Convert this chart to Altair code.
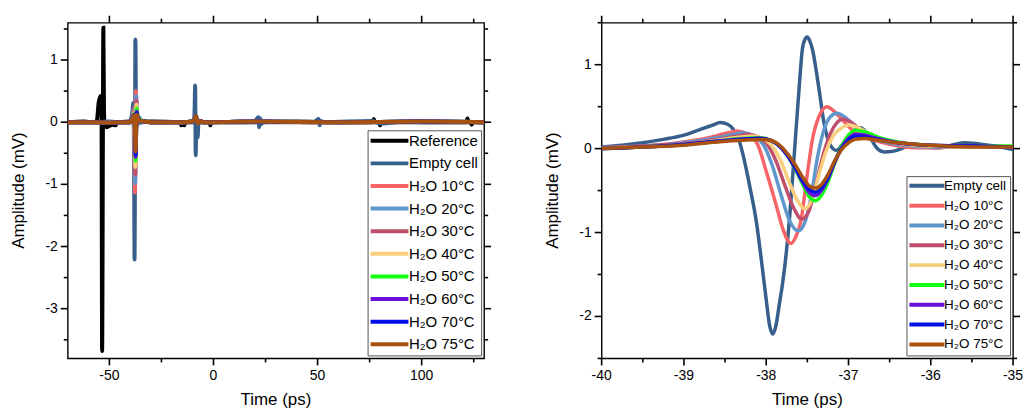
import altair as alt
import pandas as pd

FONT = "Liberation Sans"

NAMES = ["Reference", "Empty cell", "H₂O 10°C", "H₂O 20°C", "H₂O 30°C", "H₂O 40°C",
         "H₂O 50°C", "H₂O 60°C", "H₂O 70°C", "H₂O 75°C"]
COLORS = ["#000000", "#365f8c", "#f76468", "#5f97cc", "#bf4f6d", "#f9cf7d",
          "#14ff14", "#6b10db", "#0010e6", "#a9520f"]

# ---------------- zoomed window (-40 .. -35 ps) ----------------
EMPTY_T = [-40, -39.75, -39.5, -39.25, -39.0, -38.8, -38.65, -38.56, -38.47, -38.4, -38.33,
           -38.28, -38.2, -38.12, -38.05, -38.0, -37.96, -37.92, -37.88, -37.84, -37.8,
           -37.72, -37.66, -37.6, -37.56, -37.53, -37.5, -37.47, -37.44, -37.36, -37.3,
           -37.22, -37.15, -37.05, -36.95, -36.85, -36.75, -36.65, -36.57, -36.45, -36.3,
           -36.17, -36.05, -35.9, -35.75, -35.6, -35.45, -35.3, -35.15, -35.0]
EMPTY_V = [0.02, 0.04, 0.07, 0.11, 0.16, 0.23, 0.28, 0.31, 0.29, 0.23, 0.10,
           -0.08, -0.45, -0.87, -1.4, -1.8, -2.1, -2.21, -2.1, -1.85, -1.6,
           -0.87, -0.08, 0.72, 1.19, 1.3, 1.33, 1.28, 1.19, 0.72, 0.32,
           0.04, -0.02, 0.08, 0.20, 0.25, 0.15, 0.0, -0.04, -0.03, 0.02,
           0.05, 0.02, 0.01, 0.04, 0.07, 0.06, 0.04, 0.02, -0.01]

W10_T = [-40, -39.5, -39, -38.7, -38.5, -38.35, -38.22, -38.1, -38.0, -37.88, -37.8, -37.7,
         -37.64, -37.58, -37.5, -37.44, -37.36, -37.26, -37.18, -37.09, -36.93, -36.69,
         -36.5, -36.2, -36.0, -35.5, -35.0]
W10_V = [0.01, 0.03, 0.08, 0.13, 0.18, 0.21, 0.17, 0.04, -0.27, -0.67, -0.95, -1.13,
         -1.05, -0.87, -0.3, 0.1, 0.38, 0.50, 0.45, 0.36, 0.20, 0.10,
         0.05, 0.01, 0.01, 0.03, 0.02]

W20_T = [-40, -39.5, -39, -38.6, -38.4, -38.28, -38.15, -38.02, -37.92, -37.82, -37.72,
         -37.61, -37.52, -37.45, -37.38, -37.3, -37.22, -37.14, -37.05, -36.95, -36.8,
         -36.6, -36.4, -36.0, -35.5, -35.0]
W20_V = [0.01, 0.03, 0.07, 0.13, 0.17, 0.19, 0.15, 0.02, -0.22, -0.55, -0.85,
         -0.98, -0.85, -0.55, -0.12, 0.22, 0.38, 0.42, 0.38, 0.30, 0.17,
         0.09, 0.05, 0.02, 0.02, 0.02]

W30_T = [-40, -39.5, -39, -38.6, -38.35, -38.22, -38.1, -37.98, -37.88, -37.78, -37.67,
         -37.57, -37.48, -37.4, -37.32, -37.22, -37.14, -37.07, -36.98, -36.85, -36.65,
         -36.4, -36.0, -35.5, -35.0]
W30_V = [0.01, 0.03, 0.06, 0.11, 0.15, 0.17, 0.14, 0.04, -0.15, -0.42, -0.70,
         -0.84, -0.74, -0.45, -0.12, 0.18, 0.31, 0.35, 0.32, 0.22, 0.12,
         0.06, 0.03, 0.02, 0.02]

W40_T = [-40, -39.5, -39, -38.6, -38.3, -38.15, -38.02, -37.92, -37.82, -37.72, -37.62,
         -37.53, -37.45, -37.37, -37.28, -37.18, -37.08, -37.0, -36.9, -36.75, -36.55,
         -36.3, -36.0, -35.5, -35.0]
W40_V = [0.01, 0.02, 0.05, 0.10, 0.14, 0.15, 0.11, 0.02, -0.15, -0.40, -0.62,
         -0.72, -0.62, -0.35, -0.05, 0.16, 0.25, 0.28, 0.26, 0.18, 0.10,
         0.05, 0.03, 0.02, 0.02]

WHOT_T = [-40, -39.5, -39, -38.6, -38.3, -38.08, -37.95, -37.85, -37.75, -37.65, -37.55,
          -37.47, -37.40, -37.33, -37.25, -37.17, -37.09, -37.0, -36.92, -36.8, -36.65,
          -36.4, -36.0, -35.5, -35.0]
W50_V = [0.0, 0.02, 0.05, 0.09, 0.12, 0.13, 0.10, 0.04, -0.07, -0.24, -0.44,
         -0.58, -0.62, -0.56, -0.40, -0.18, 0.02, 0.16, 0.22, 0.20, 0.14,
         0.08, 0.04, 0.03, 0.03]
W60_V = [0.0, 0.02, 0.05, 0.09, 0.115, 0.125, 0.10, 0.04, -0.07, -0.23, -0.41,
         -0.53, -0.56, -0.50, -0.36, -0.17, 0.0, 0.12, 0.17, 0.16, 0.12,
         0.07, 0.04, 0.03, 0.02]
W70_V = [0.0, 0.02, 0.05, 0.085, 0.11, 0.12, 0.10, 0.04, -0.07, -0.22, -0.39,
         -0.49, -0.52, -0.47, -0.34, -0.16, -0.01, 0.10, 0.15, 0.14, 0.11,
         0.07, 0.04, 0.03, 0.02]
W75_V = [0.0, 0.02, 0.04, 0.08, 0.10, 0.11, 0.10, 0.05, -0.05, -0.19, -0.35,
         -0.45, -0.47, -0.43, -0.31, -0.15, -0.02, 0.07, 0.11, 0.12, 0.10,
         0.07, 0.04, 0.02, 0.02]

# ---------------- full window extras (-70 .. 130 ps) ----------------
REF_T = [-70, -62, -58, -56, -55.6, -55.2, -54.7, -54.2, -53.8, -53.5, -52.9, -52.6,
         -52.3, -51.5, -50, -48.5, -47, -46, -40, -30, -16, -15.5, -15, -14, -13.5,
         -2, -1.5, -1, 20, 40, 60, 76.5, 77, 77.5, 79.5, 80, 80.5, 95, 110, 121.5, 122, 122.5,
         123.5, 124, 124.5, 130]
REF_V = [0.0, 0.01, 0.0, 0.02, 0.15, 0.30, 0.38, 0.42, 0.35, -3.68, 1.52, 0.2,
         -0.05, -0.08, -0.06, -0.04, -0.05, 0.0, 0.0, 0.01, 0.0, -0.05, 0.0, -0.05, 0.0,
         0.0, -0.05, 0.0, 0.0, 0.01, 0.0, 0.0, 0.05, 0.0, 0.0, -0.05, 0.0, 0.0, 0.0, 0.0, 0.06, 0.0,
         0.0, -0.04, 0.0, 0.0]

EMPTY_PRE_T = [-70, -60, -50, -45, -42]
EMPTY_PRE_V = [0.0, 0.0, 0.01, 0.0, 0.01]
EMPTY_POST_T = [-33, -30, -20, -12, -10, -9.2, -8.8, -8.55, -8.2, -7.6, -7.2, -5, 15, 20,
                21.5, 22, 22.5, 23, 24, 48, 50.5, 51, 51.5, 53, 76, 80, 95, 100, 130]
EMPTY_POST_V = [0.02, -0.01, 0.0, 0.0, 0.02, 0.08, 0.59, -0.53, 0.1, -0.24, 0.0, 0.0, 0.0, 0.02,
                0.08, -0.08, 0.06, -0.03, 0.0, 0.0, 0.05, -0.05, 0.02, 0.0, 0.02, -0.02, 0.02, 0.0, 0.0]

WATER_PRE_T = [-70, -56, -50, -45, -42]
WATER_PRE_V = [0.0, 0.0, -0.01, 0.0, 0.0]
WATER_POST_T = [-33, -30, -15, -10, -9.0, -8.5, -8.0, -7.5, -6.5, -5, 20, 60, 100, 130]
WATER_POST_V = [0.01, 0.0, 0.0, 0.01, 0.05, 0.1, 0.02, -0.02, 0.02, 0.0, 0.01, 0.0, 0.01, 0.0]

ZOOM_T = [EMPTY_T, W10_T, W20_T, W30_T, W40_T, WHOT_T, WHOT_T, WHOT_T, WHOT_T]
ZOOM_V = [EMPTY_V, W10_V, W20_V, W30_V, W40_V, W50_V, W60_V, W70_V, W75_V]

# ---------------- ticks and tick labels ----------------
X_FULL_MAJOR = [-50, 0, 50, 100]
X_FULL_LABELS = ["-50", "0", "50", "100"]
X_FULL_MINOR = [-25, 25, 75, 125]
Y_FULL_MAJOR = [-3, -2, -1, 0, 1]
Y_FULL_LABELS = ["-3", "-2", "-1", "0", "1"]
Y_FULL_MINOR = [-3.5, -2.5, -1.5, -0.5, 0.5, 1.5]
X_ZOOM_MAJOR = [-40, -39, -38, -37, -36, -35]
X_ZOOM_LABELS = ["-40", "-39", "-38", "-37", "-36", "-35"]
X_ZOOM_MINOR = [-39.5, -38.5, -37.5, -36.5, -35.5]
Y_ZOOM_MAJOR = [-2, -1, 0, 1]
Y_ZOOM_LABELS = ["-2", "-1", "0", "1"]
Y_ZOOM_MINOR = [-2.5, -1.5, -0.5, 0.5, 1.5]

X_TITLE = "Time (ps)"
Y_TITLE = "Amplitude (mV)"

H = 337
MAJOR = 7
MINOR = 4


def df(name, t, v):
    return pd.DataFrame({"t": t, "v": v, "series": name})


full_frames = [df(NAMES[0], REF_T, REF_V),
               df(NAMES[1], EMPTY_PRE_T + EMPTY_T + EMPTY_POST_T,
                  EMPTY_PRE_V + EMPTY_V + EMPTY_POST_V)]
for i in range(1, 9):
    full_frames.append(df(NAMES[i + 1], WATER_PRE_T + ZOOM_T[i] + WATER_POST_T,
                          WATER_PRE_V + ZOOM_V[i] + WATER_POST_V))
zoom_frames = [df(NAMES[i + 1], ZOOM_T[i], ZOOM_V[i]) for i in range(9)]


def make_legend(font_size, sym_size, path, sym_off, lab_off, row_pad):
    return alt.Legend(orient="bottom-right", offset=3, title=None, strokeColor="#555555",
                      fillColor="white", padding=3, symbolType=path, symbolSize=sym_size,
                      symbolStrokeWidth=4, symbolOffset=sym_off, labelOffset=lab_off,
                      labelFontSize=font_size, labelFont=FONT, labelColor="black",
                      rowPadding=row_pad, labelLimit=200)


def panel(frames, names, colors, xdom, ydom, xmaj, xlab, xmin, ymaj, ylab, ymin, legend, sw, W):
    xs = alt.Scale(domain=xdom, nice=False, zero=False)
    ys = alt.Scale(domain=ydom, nice=False, zero=False)
    cs = alt.Scale(domain=names, range=colors)

    def X(field):
        return alt.X(field, scale=xs, axis=None)

    def Y(field):
        return alt.Y(field, scale=ys, axis=None)

    layers = []
    for f in frames:
        layers.append(
            alt.Chart(f).mark_line(strokeWidth=sw, interpolate="monotone", clip=True).encode(
                x=X("t:Q"), y=Y("v:Q"),
                color=alt.Color("series:N", scale=cs, legend=legend),
            )
        )
    # tick marks on all four sides (outward), major and minor
    for xvals, yvals, length in [(xmaj, ymaj, MAJOR), (xmin, ymin, MINOR)]:
        xdf = pd.DataFrame({"t": xvals})
        ydf = pd.DataFrame({"v": yvals})
        for y0, y1 in [(H, H + length), (0, -length)]:
            layers.append(alt.Chart(xdf).mark_rule(color="black", strokeWidth=1.6, clip=False).encode(
                x=X("t:Q"), y=alt.value(y0), y2=alt.value(y1)))
        for x0, x1 in [(0, -length), (W, W + length)]:
            layers.append(alt.Chart(ydf).mark_rule(color="black", strokeWidth=1.6, clip=False).encode(
                y=Y("v:Q"), x=alt.value(x0), x2=alt.value(x1)))
    # tick labels
    layers.append(alt.Chart(pd.DataFrame({"t": xmaj, "lab": xlab})).mark_text(
        font=FONT, fontSize=14, color="black", align="center", baseline="alphabetic").encode(
        x=X("t:Q"), y=alt.value(H + 22), text="lab:N"))
    layers.append(alt.Chart(pd.DataFrame({"v": ymaj, "lab": ylab})).mark_text(
        font=FONT, fontSize=14, color="black", align="right", baseline="middle").encode(
        y=Y("v:Q"), x=alt.value(-10), text="lab:N"))
    # axis titles
    layers.append(alt.Chart(pd.DataFrame({"s": [X_TITLE]})).mark_text(
        font=FONT, fontSize=17, color="black", align="center", baseline="alphabetic").encode(
        x=alt.value(W / 2), y=alt.value(H + 47), text="s:N"))
    layers.append(alt.Chart(pd.DataFrame({"s": [Y_TITLE]})).mark_text(
        font=FONT, fontSize=17, color="black", align="center", baseline="alphabetic",
        angle=270).encode(
        x=alt.value(-44), y=alt.value(H / 2), text="s:N"))
    return alt.layer(*layers).properties(width=W, height=H)


left = panel(full_frames, NAMES, COLORS, [-70, 130], [-3.8, 1.6],
             X_FULL_MAJOR, X_FULL_LABELS, X_FULL_MINOR, Y_FULL_MAJOR, Y_FULL_LABELS, Y_FULL_MINOR,
             make_legend(15, 121, "M-3.45,0H3.45", 11.5, 12, 5.7), 4, 418)
right = panel(zoom_frames, NAMES[1:], COLORS[1:], [-40, -35], [-2.5, 1.5],
              X_ZOOM_MAJOR, X_ZOOM_LABELS, X_ZOOM_MINOR, Y_ZOOM_MAJOR, Y_ZOOM_LABELS, Y_ZOOM_MINOR,
              make_legend(13.5, 81, "M-3.9,0H3.9", 10.75, 10.5, 2.9), 3.5, 413)

chart = alt.hconcat(left, right, spacing=50).resolve_scale(color="independent").resolve_legend(
    color="independent").properties(
    padding={"left": 1, "top": 5, "right": 0, "bottom": 0}, background="white"
).configure_view(stroke="black", strokeWidth=1.4)

chart.save("out.html", embed_options={"renderer": "svg", "actions": False})
